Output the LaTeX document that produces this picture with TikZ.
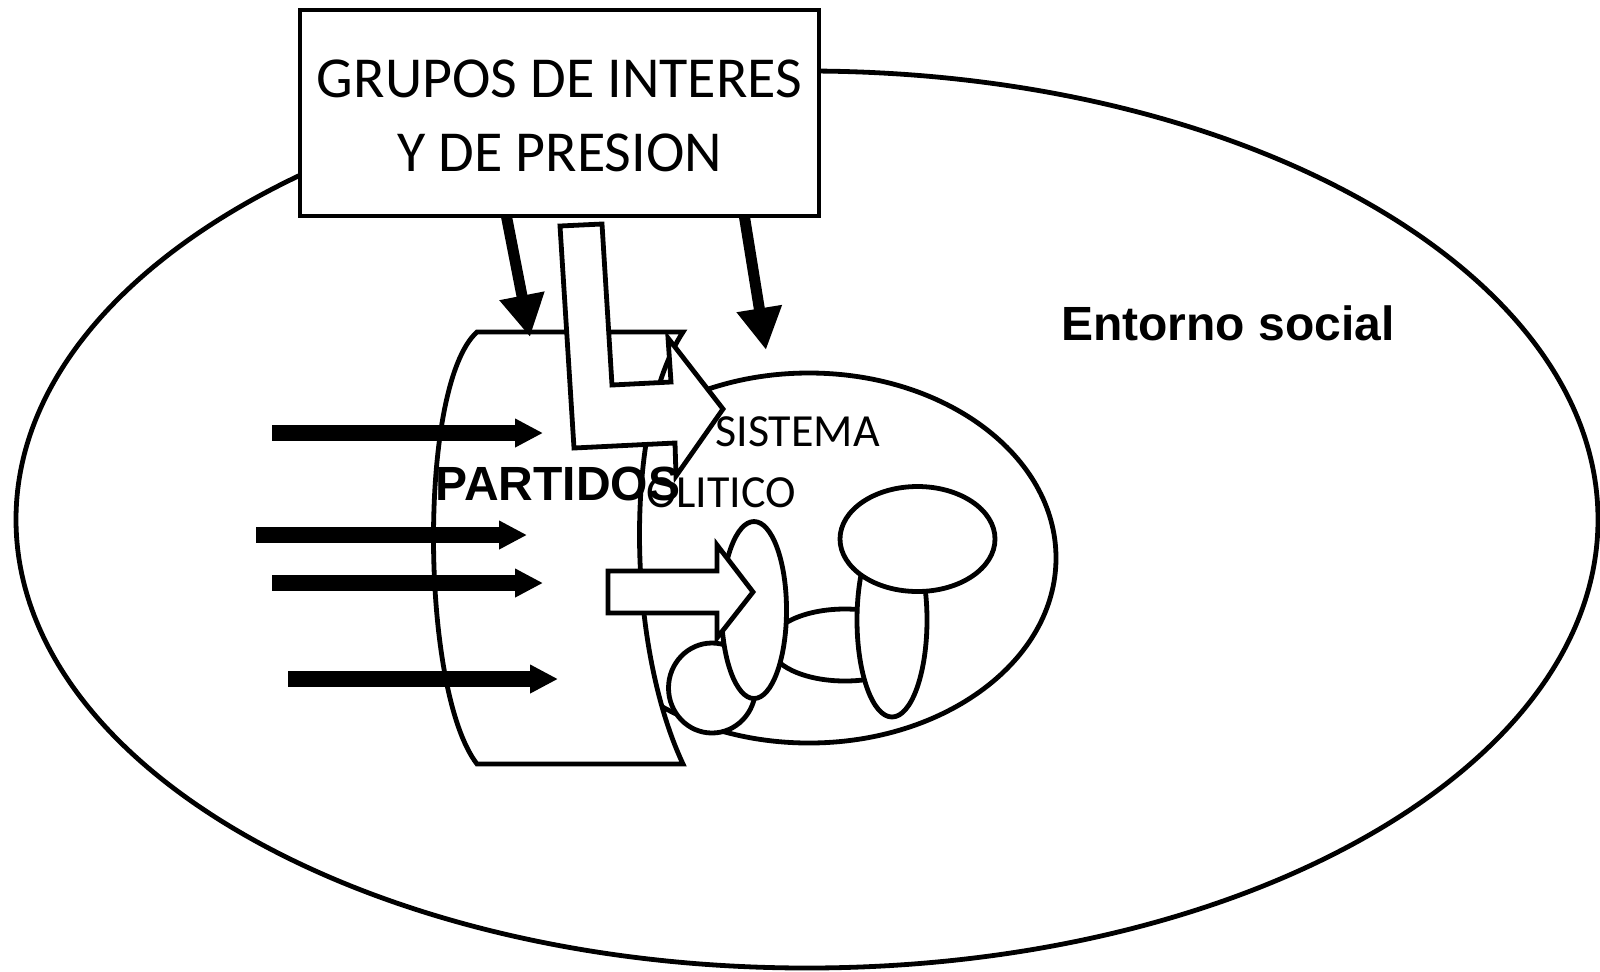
\documentclass[tikz,border=0pt]{standalone}
\usepackage{fontspec}
\setmainfont{Carlito}
\newfontfamily\arialfont{Liberation Sans}
\usetikzlibrary{arrows.meta}
\usetikzlibrary{shapes.geometric}
\usetikzlibrary{positioning}

\tikzset{
  shapeline/.style={draw=black, line width=2.4pt, fill=white, line join=miter},
  blob/.style={shapeline, ellipse, inner sep=0pt},
  push/.style={line width=8pt, -{Triangle[length=14pt,width=13.5pt]}},
  drop/.style={line width=5.5pt, -{Triangle[length=21pt,width=21.5pt]}},
  bigtext/.style={font={\fontsize{29}{37}\selectfont}, align=center, text height=59pt},
  midtext/.style={anchor=base west, inner sep=0pt, font={\fontsize{23}{28}\selectfont}},
  boldtext/.style={anchor=base, inner sep=0pt, font={\arialfont\bfseries\fontsize{24}{29}\selectfont}},
}

\begin{document}
\begin{tikzpicture}[x=0.5pt,y=-0.5pt]
    \useasboundingbox (0,0) rectangle (1600,971);

    % entorno social
    \node[blob, minimum width=791pt, minimum height=448.5pt] (entorno) at (807,519.5) {};
    \node[boldtext] (entornotxt) at (1228,340) {Entorno social};

    % sistema politico
    \node[blob, minimum width=247pt, minimum height=185pt] (sistema) at (809,558) {};
    \node[midtext] (sistema1) at (715,446) {SISTEMA};
    \node[midtext] (sistema2) at (622,507) {POLITICO};

    % partidos
    \draw[shapeline] (580,332) -- (683,332)
        .. controls (625,420) and (625,640) .. (683,764)
        -- (477,764) .. controls (420,690) and (418,385) .. (477,332) -- cycle;
    \node[boldtext] (partidos) at (558,500) {PARTIDOS};

    % organos del sistema
    \node[blob, minimum width=75pt, minimum height=36pt] (enlace) at (845,645) {};
    \node[blob, minimum width=35pt, minimum height=97pt] (pie) at (892,620) {};
    \node[blob, minimum width=77.5pt, minimum height=52.5pt] (copa) at (917.5,539) {};
    \node[blob, minimum width=43.5pt, minimum height=45pt] (bola) at (712,688) {};
    \node[blob, minimum width=32.5pt, minimum height=88.5pt] (palo) at (754,610) {};

    % flechas huecas
    \draw[shapeline] (608,571) -- (717,571) -- (717,545) -- (753,592)
        -- (717,638) -- (717,613) -- (608,613) -- cycle;
    \draw[shapeline] (560,226) -- (602,224) -- (612,385) -- (671,382) -- (668,338)
        -- (723,409) -- (676,476) -- (675,443) -- (574,448) -- cycle;

    % demandas
    \foreach \k/\xs/\xe/\yy in {1/272/543/433, 2/256/527/535, 3/272/543/583, 4/288/558/679}{
    \coordinate (in\k) at (\xs,\yy);
    \coordinate (in\k tip) at (\xe,\yy);
    \draw[push] (in\k) -- (in\k tip);
    }

    % presiones
    \coordinate (pa) at (506,214);
    \coordinate (pa tip) at (530,337);
    \coordinate (pb) at (744,214);
    \coordinate (pb tip) at (766,350);
    \draw[drop] (pa) -- (pa tip);
    \draw[drop] (pb) -- (pb tip);

    % grupos
    \node[shapeline, minimum width=259.5pt, minimum height=103pt, bigtext] (grupos) at (559.5,113)
        {GRUPOS DE INTERES\\Y DE PRESION};
\end{tikzpicture}
\end{document}
